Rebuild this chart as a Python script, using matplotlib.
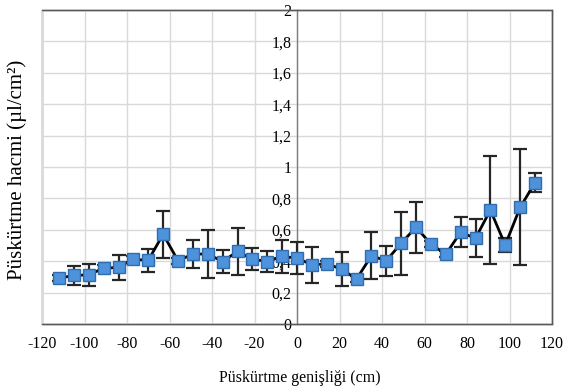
import matplotlib
matplotlib.use("Agg")
import matplotlib.pyplot as plt
from matplotlib.ticker import FixedLocator

# Data
x_cm = [-112, -105, -98, -91, -84, -77, -70, -63, -56, -49, -42, -35, -28, -21, -14, -7,
        0, 7, 14, 21, 28, 35, 42, 49, 56, 63, 70, 77, 84, 91, 98, 105, 112]
volume = [0.292, 0.309, 0.313, 0.356, 0.360, 0.413, 0.405, 0.572, 0.403, 0.445, 0.446,
          0.398, 0.462, 0.413, 0.398, 0.430, 0.420, 0.377, 0.383, 0.350, 0.286, 0.434,
          0.403, 0.514, 0.616, 0.510, 0.444, 0.584, 0.546, 0.726, 0.503, 0.743, 0.900]
err = [0.02, 0.058, 0.070, 0.02, 0.080, 0.02, 0.072, 0.150, 0.02, 0.088, 0.150,
       0.075, 0.150, 0.070, 0.065, 0.105, 0.100, 0.115, 0.02, 0.110, 0.02, 0.150,
       0.095, 0.200, 0.163, 0.02, 0.02, 0.096, 0.122, 0.345, 0.043, 0.370, 0.060]

x_ticks = [-120, -100, -80, -60, -40, -20, 0, 20, 40, 60, 80, 100, 120]
x_ticklabels = ["-120", "-100", "-80", "-60", "-40", "-20", "0", "20", "40", "60", "80", "100", "120"]
y_ticks = [0, 0.2, 0.4, 0.6, 0.8, 1.0, 1.2, 1.4, 1.6, 1.8, 2.0]
y_ticklabels = ["0", "0,2", "0,4", "0,6", "0,8", "1", "1,2", "1,4", "1,6", "1,8", "2"]

plt.rcParams['font.family'] = ['Liberation Serif', 'DejaVu Serif']

fig = plt.figure(figsize=(5.77, 3.92), dpi=100)
ax = fig.add_axes([42/577, 68/392, 510/577, 314/392])

ax.set_xlim(-120, 120)
ax.set_ylim(0, 2)
ax.xaxis.set_major_locator(FixedLocator(x_ticks))
ax.set_xticklabels(x_ticklabels)
ax.yaxis.set_major_locator(FixedLocator(y_ticks))
ax.set_yticklabels(y_ticklabels)

ax.grid(True, color='#d9d9d9', linewidth=1.0, zorder=0)
ax.set_axisbelow(True)

# Frame
for side in ['top', 'right', 'bottom']:
    ax.spines[side].set_color('#595959')
    ax.spines[side].set_linewidth(1.0)
ax.spines['left'].set_position(('data', 0))
ax.spines['left'].set_color('#7f7f7f')
ax.spines['left'].set_linewidth(1.0)
ax.patch.set_edgecolor('#595959')
ax.patch.set_linewidth(1.0)

ax.tick_params(axis='both', length=0, colors='black')
ax.tick_params(axis='x', pad=9, labelsize=11.5)
ax.tick_params(axis='y', pad=4, labelsize=11.5)

ax.errorbar(x_cm, volume, yerr=err, fmt='none', ecolor='#262626', elinewidth=1.6,
            capsize=5, capthick=1.6, zorder=3)
ax.plot(x_cm, volume, color='black', linewidth=2.0, marker='s', markersize=9,
        markerfacecolor='#4d92db', markeredgecolor='#2f6db0', markeredgewidth=1.0, zorder=4)

ax.set_xlabel("Püskürtme genişliği (cm)", fontsize=11.5)
ax.set_ylabel("Püskürtme hacmi (µl/cm²)", fontsize=15)
ax.xaxis.set_label_coords(0.506, -0.148)
ax.yaxis.set_label_coords(-0.03, 0.49)

fig.savefig("out.png", dpi=100)
